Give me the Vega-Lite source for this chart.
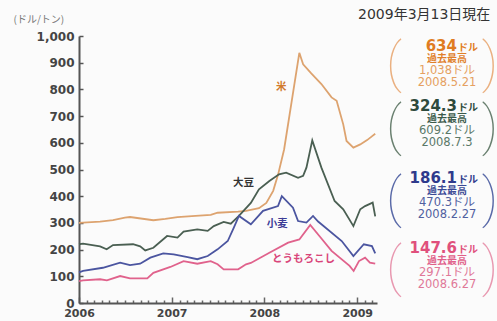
{
  "$schema": "https://vega.github.io/schema/vega-lite/v6.json",
  "background": "#fbfbfb",
  "padding": {"left": 13, "top": 7, "right": 0, "bottom": 0},
  "bounds": "flush",
  "spacing": 3,
  "config": {"view": {"stroke": null}, "font": "DejaVu Sans"},
  "hconcat": [
    {
      "width": 298,
      "height": 267,
      "data": {"values": [
        {"crop": "米", "date": "2006-01-01", "price": 300},
        {"crop": "米", "date": "2006-01-17", "price": 301},
        {"crop": "米", "date": "2006-03-25", "price": 305},
        {"crop": "米", "date": "2006-05-15", "price": 310},
        {"crop": "米", "date": "2006-07-01", "price": 320},
        {"crop": "米", "date": "2006-07-21", "price": 322},
        {"crop": "米", "date": "2006-10-21", "price": 310},
        {"crop": "米", "date": "2006-12-07", "price": 315},
        {"crop": "米", "date": "2007-01-24", "price": 322},
        {"crop": "米", "date": "2007-04-05", "price": 326},
        {"crop": "米", "date": "2007-06-04", "price": 330},
        {"crop": "米", "date": "2007-07-01", "price": 338},
        {"crop": "米", "date": "2007-09-20", "price": 342},
        {"crop": "米", "date": "2007-10-21", "price": 345},
        {"crop": "米", "date": "2007-12-11", "price": 355},
        {"crop": "米", "date": "2008-01-09", "price": 375},
        {"crop": "米", "date": "2008-02-05", "price": 420},
        {"crop": "米", "date": "2008-02-24", "price": 480},
        {"crop": "米", "date": "2008-03-19", "price": 575},
        {"crop": "米", "date": "2008-05-18", "price": 937},
        {"crop": "米", "date": "2008-06-02", "price": 894},
        {"crop": "米", "date": "2008-07-04", "price": 860},
        {"crop": "米", "date": "2008-08-13", "price": 820},
        {"crop": "米", "date": "2008-09-22", "price": 770},
        {"crop": "米", "date": "2008-10-12", "price": 757},
        {"crop": "米", "date": "2008-11-07", "price": 669},
        {"crop": "米", "date": "2008-11-20", "price": 607},
        {"crop": "米", "date": "2008-12-17", "price": 582},
        {"crop": "米", "date": "2009-01-13", "price": 594},
        {"crop": "米", "date": "2009-02-09", "price": 610},
        {"crop": "米", "date": "2009-03-01", "price": 625},
        {"crop": "米", "date": "2009-03-13", "price": 634},

        {"crop": "大豆", "date": "2006-01-01", "price": 220},
        {"crop": "大豆", "date": "2006-01-17", "price": 222},
        {"crop": "大豆", "date": "2006-03-25", "price": 212},
        {"crop": "大豆", "date": "2006-04-20", "price": 201},
        {"crop": "大豆", "date": "2006-05-15", "price": 217},
        {"crop": "大豆", "date": "2006-08-02", "price": 220},
        {"crop": "大豆", "date": "2006-08-30", "price": 212},
        {"crop": "大豆", "date": "2006-09-19", "price": 197},
        {"crop": "大豆", "date": "2006-10-21", "price": 207},
        {"crop": "大豆", "date": "2006-12-14", "price": 251},
        {"crop": "大豆", "date": "2007-01-24", "price": 245},
        {"crop": "大豆", "date": "2007-02-17", "price": 267},
        {"crop": "大豆", "date": "2007-04-12", "price": 276},
        {"crop": "大豆", "date": "2007-05-23", "price": 270},
        {"crop": "大豆", "date": "2007-06-16", "price": 288},
        {"crop": "大豆", "date": "2007-07-25", "price": 304},
        {"crop": "大豆", "date": "2007-08-22", "price": 297},
        {"crop": "大豆", "date": "2007-09-23", "price": 326},
        {"crop": "大豆", "date": "2007-11-09", "price": 375},
        {"crop": "大豆", "date": "2007-12-11", "price": 426},
        {"crop": "大豆", "date": "2008-01-21", "price": 457},
        {"crop": "大豆", "date": "2008-02-28", "price": 482},
        {"crop": "大豆", "date": "2008-03-27", "price": 488},
        {"crop": "大豆", "date": "2008-05-13", "price": 469},
        {"crop": "大豆", "date": "2008-06-02", "price": 476},
        {"crop": "大豆", "date": "2008-06-15", "price": 507},
        {"crop": "大豆", "date": "2008-07-08", "price": 609.2},
        {"crop": "大豆", "date": "2008-08-13", "price": 507},
        {"crop": "大豆", "date": "2008-10-04", "price": 382},
        {"crop": "大豆", "date": "2008-11-07", "price": 351},
        {"crop": "大豆", "date": "2008-12-17", "price": 288},
        {"crop": "大豆", "date": "2009-01-13", "price": 351},
        {"crop": "大豆", "date": "2009-02-01", "price": 363},
        {"crop": "大豆", "date": "2009-03-03", "price": 376},
        {"crop": "大豆", "date": "2009-03-13", "price": 324.3},

        {"crop": "小麦", "date": "2006-01-01", "price": 115},
        {"crop": "小麦", "date": "2006-01-17", "price": 120},
        {"crop": "小麦", "date": "2006-04-05", "price": 132},
        {"crop": "小麦", "date": "2006-06-12", "price": 151},
        {"crop": "小麦", "date": "2006-07-21", "price": 142},
        {"crop": "小麦", "date": "2006-08-30", "price": 147},
        {"crop": "小麦", "date": "2006-10-09", "price": 170},
        {"crop": "小麦", "date": "2006-11-29", "price": 186},
        {"crop": "小麦", "date": "2007-01-09", "price": 182},
        {"crop": "小麦", "date": "2007-03-05", "price": 172},
        {"crop": "小麦", "date": "2007-04-12", "price": 164},
        {"crop": "小麦", "date": "2007-05-23", "price": 176},
        {"crop": "小麦", "date": "2007-07-01", "price": 201},
        {"crop": "小麦", "date": "2007-08-10", "price": 232},
        {"crop": "小麦", "date": "2007-09-03", "price": 282},
        {"crop": "小麦", "date": "2007-09-23", "price": 326},
        {"crop": "小麦", "date": "2007-11-09", "price": 295},
        {"crop": "小麦", "date": "2007-12-27", "price": 345},
        {"crop": "小麦", "date": "2008-02-24", "price": 363},
        {"crop": "小麦", "date": "2008-03-10", "price": 400},
        {"crop": "小麦", "date": "2008-04-23", "price": 357},
        {"crop": "小麦", "date": "2008-05-13", "price": 307},
        {"crop": "小麦", "date": "2008-06-15", "price": 301},
        {"crop": "小麦", "date": "2008-07-11", "price": 326},
        {"crop": "小麦", "date": "2008-07-31", "price": 305},
        {"crop": "小麦", "date": "2008-08-13", "price": 295},
        {"crop": "小麦", "date": "2008-11-01", "price": 232},
        {"crop": "小麦", "date": "2008-12-17", "price": 176},
        {"crop": "小麦", "date": "2009-01-27", "price": 220},
        {"crop": "小麦", "date": "2009-02-28", "price": 213},
        {"crop": "小麦", "date": "2009-03-13", "price": 186.1},

        {"crop": "とうもろこし", "date": "2006-01-01", "price": 82},
        {"crop": "とうもろこし", "date": "2006-01-17", "price": 85},
        {"crop": "とうもろこし", "date": "2006-03-25", "price": 89},
        {"crop": "とうもろこし", "date": "2006-04-21", "price": 85},
        {"crop": "とうもろこし", "date": "2006-06-12", "price": 101},
        {"crop": "とうもろこし", "date": "2006-07-21", "price": 92},
        {"crop": "とうもろこし", "date": "2006-09-27", "price": 92},
        {"crop": "とうもろこし", "date": "2006-10-21", "price": 113},
        {"crop": "とうもろこし", "date": "2006-12-27", "price": 135},
        {"crop": "とうもろこし", "date": "2007-02-17", "price": 157},
        {"crop": "とうもろこし", "date": "2007-04-12", "price": 147},
        {"crop": "とうもろこし", "date": "2007-06-04", "price": 157},
        {"crop": "とうもろこし", "date": "2007-07-01", "price": 145},
        {"crop": "とうもろこし", "date": "2007-07-25", "price": 126},
        {"crop": "とうもろこし", "date": "2007-09-20", "price": 126},
        {"crop": "とうもろこし", "date": "2007-10-21", "price": 145},
        {"crop": "とうもろこし", "date": "2007-11-09", "price": 150},
        {"crop": "とうもろこし", "date": "2008-01-21", "price": 188},
        {"crop": "とうもろこし", "date": "2008-04-04", "price": 226},
        {"crop": "とうもろこし", "date": "2008-05-18", "price": 238},
        {"crop": "とうもろこし", "date": "2008-06-30", "price": 292},
        {"crop": "とうもろこし", "date": "2008-08-05", "price": 251},
        {"crop": "とうもろこし", "date": "2008-09-22", "price": 195},
        {"crop": "とうもろこし", "date": "2008-12-02", "price": 139},
        {"crop": "とうもろこし", "date": "2008-12-18", "price": 120},
        {"crop": "とうもろこし", "date": "2009-01-08", "price": 157},
        {"crop": "とうもろこし", "date": "2009-02-01", "price": 170},
        {"crop": "とうもろこし", "date": "2009-02-20", "price": 151},
        {"crop": "とうもろこし", "date": "2009-03-13", "price": 147.6}
      ]},
      "encoding": {
        "x": {
          "field": "date",
          "type": "temporal",
          "scale": {"domain": [{"year": 2006, "month": 1, "date": 1}, {"year": 2009, "month": 3, "date": 20}]},
          "axis": {
            "title": null,
            "grid": false,
            "tickCount": {"interval": "month", "step": 1},
            "labelExpr": "month(datum.value) === 0 ? timeFormat(datum.value, '%Y') : ''",
            "labelOverlap": false,
            "labelFlush": false,
            "labelFont": "DejaVu Sans",
            "labelFontWeight": "bold",
            "labelFontSize": 11,
            "labelColor": "#444444",
            "labelBaseline": "top",
            "labelPadding": 10,
            "domainColor": "#555555",
            "domainWidth": 2,
            "tickColor": "#666666",
            "tickWidth": 1.5,
            "tickSize": {"condition": {"test": "month(datum.value) === 0", "value": -6}, "value": -3}
          }
        },
        "y": {
          "field": "price",
          "type": "quantitative",
          "scale": {"domain": [0, 1000], "nice": false},
          "axis": {
            "values": [0, 100, 200, 300, 400, 500, 600, 700, 800, 900, 1000],
            "format": ",d",
            "grid": false,
            "labelFont": "DejaVu Sans",
            "labelFontWeight": "bold",
            "labelFontSize": 12,
            "labelColor": "#444444",
            "labelPadding": 9,
            "domainColor": "#555555",
            "domainWidth": 2,
            "tickColor": "#555555",
            "tickWidth": 1.5,
            "tickSize": -4,
            "title": "(ドル/トン)",
            "titleFont": "Noto Sans CJK JP",
            "titleFontSize": 10,
            "titleFontWeight": "normal",
            "titleColor": "#777777",
            "titleAngle": 0,
            "titleAlign": "left",
            "titleBaseline": "middle",
            "titleX": -66,
            "titleY": -17
          }
        }
      },
      "layer": [
        {
          "mark": {"type": "line", "strokeWidth": 1.8},
          "encoding": {
            "color": {
              "field": "crop",
              "type": "nominal",
              "scale": {"domain": ["米", "大豆", "小麦", "とうもろこし"], "range": ["#dda36f", "#4a5f52", "#4b55a0", "#e0628c"]},
              "legend": null
            }
          }
        },
        {
          "data": {"values": [
            {"crop": "米", "date": "2008-03-08", "price": 809},
            {"crop": "大豆", "date": "2007-10-11", "price": 448},
            {"crop": "小麦", "date": "2008-02-21", "price": 296},
            {"crop": "とうもろこし", "date": "2008-06-03", "price": 165}
          ]},
          "mark": {"type": "text", "font": "Noto Sans CJK JP", "fontWeight": "bold", "fontSize": 10.5},
          "encoding": {
            "text": {"field": "crop"},
            "color": {
              "field": "crop",
              "type": "nominal",
              "scale": {"domain": ["米", "大豆", "小麦", "とうもろこし"], "range": ["#d27a2c", "#333333", "#3c3c96", "#d9457a"]},
              "legend": null
            }
          }
        }
      ],
      "resolve": {"scale": {"color": "independent"}}
    },
    {
      "width": 117,
      "height": 267,
      "data": {"values": [
        {"grp": "米", "kind": "stamp", "text": "2009年3月13日現在", "line": -2.6},
        {"grp": "米", "kind": "now", "text": "634", "line": 0},
        {"grp": "米", "kind": "high", "text": "過去最高", "line": 1.1},
        {"grp": "米", "kind": "peak", "text": "1,038ドル", "line": 2.1},
        {"grp": "米", "kind": "peak", "text": "2008.5.21", "line": 3.1},
        {"grp": "米", "kind": "frame", "text": "", "line": 1.6},
        {"grp": "大豆", "kind": "now", "text": "324.3", "line": 5},
        {"grp": "大豆", "kind": "high", "text": "過去最高", "line": 6.1},
        {"grp": "大豆", "kind": "peak", "text": "609.2ドル", "line": 7.1},
        {"grp": "大豆", "kind": "peak", "text": "2008.7.3", "line": 8.1},
        {"grp": "大豆", "kind": "frame", "text": "", "line": 6.8},
        {"grp": "小麦", "kind": "now", "text": "186.1", "line": 11},
        {"grp": "小麦", "kind": "high", "text": "過去最高", "line": 12.1},
        {"grp": "小麦", "kind": "peak", "text": "470.3ドル", "line": 13.1},
        {"grp": "小麦", "kind": "peak", "text": "2008.2.27", "line": 14.1},
        {"grp": "小麦", "kind": "frame", "text": "", "line": 12.8},
        {"grp": "とうもろこし", "kind": "now", "text": "147.6", "line": 16.8},
        {"grp": "とうもろこし", "kind": "high", "text": "過去最高", "line": 17.9},
        {"grp": "とうもろこし", "kind": "peak", "text": "297.1ドル", "line": 18.9},
        {"grp": "とうもろこし", "kind": "peak", "text": "2008.6.27", "line": 19.9},
        {"grp": "とうもろこし", "kind": "frame", "text": "", "line": 18.6}
      ]},
      "encoding": {
        "y": {"field": "line", "type": "quantitative", "scale": {"domain": [-0.833, 21.417], "reverse": true, "nice": false, "zero": false}, "axis": null}
      },
      "layer": [
        {
          "transform": [{"filter": "datum.kind === 'stamp'"}],
          "mark": {"type": "text", "align": "left", "baseline": "middle", "font": "DejaVu Sans, Noto Sans CJK JP", "fontSize": 14, "color": "#333333"},
          "encoding": {"x": {"datum": -22, "type": "quantitative", "scale": {"domain": [0, 117], "nice": false, "zero": false}, "axis": null}, "text": {"field": "text"}}
        },
        {
          "transform": [{"filter": "datum.kind === 'now'"}],
          "mark": {"type": "text", "align": "right", "baseline": "alphabetic", "dy": 5, "font": "DejaVu Sans", "fontWeight": "bold", "fontSize": 15},
          "encoding": {
            "x": {"datum": 77, "type": "quantitative"},
            "text": {"field": "text"},
            "color": {"field": "grp", "type": "nominal", "scale": {"domain": ["米", "大豆", "小麦", "とうもろこし"], "range": ["#e07b22", "#2e4a3c", "#2f3a8c", "#e0507c"]}, "legend": null}
          }
        },
        {
          "transform": [{"filter": "datum.kind === 'now'"}],
          "mark": {"type": "text", "text": "ドル", "align": "left", "baseline": "alphabetic", "dy": 5, "font": "Noto Sans CJK JP", "fontWeight": "bold", "fontSize": 10},
          "encoding": {
            "x": {"datum": 78, "type": "quantitative"},
            "color": {"field": "grp", "type": "nominal", "scale": {"domain": ["米", "大豆", "小麦", "とうもろこし"], "range": ["#e07b22", "#2e4a3c", "#2f3a8c", "#e0507c"]}, "legend": null}
          }
        },
        {
          "transform": [{"filter": "datum.kind === 'high'"}],
          "mark": {"type": "text", "align": "center", "baseline": "middle", "font": "Noto Sans CJK JP", "fontWeight": "bold", "fontSize": 10},
          "encoding": {
            "x": {"datum": 67, "type": "quantitative"},
            "text": {"field": "text"},
            "color": {"field": "grp", "type": "nominal", "scale": {"domain": ["米", "大豆", "小麦", "とうもろこし"], "range": ["#e0802a", "#3c5a4a", "#3c4a96", "#e0608a"]}, "legend": null}
          }
        },
        {
          "transform": [{"filter": "datum.kind === 'peak'"}],
          "mark": {"type": "text", "align": "center", "baseline": "middle", "font": "DejaVu Sans, Noto Sans CJK JP", "fontSize": 11.5},
          "encoding": {
            "x": {"datum": 67, "type": "quantitative"},
            "text": {"field": "text"},
            "color": {"field": "grp", "type": "nominal", "scale": {"domain": ["米", "大豆", "小麦", "とうもろこし"], "range": ["#e5a060", "#5a7868", "#5060a0", "#e07898"]}, "legend": null}
          }
        },
        {
          "transform": [{"filter": "datum.kind === 'frame'"}],
          "mark": {"type": "text", "text": "(", "align": "center", "baseline": "middle", "font": "Roboto", "fontWeight": 100, "fontSize": 54},
          "encoding": {
            "x": {"datum": 14, "type": "quantitative"},
            "color": {"field": "grp", "type": "nominal", "scale": {"domain": ["米", "大豆", "小麦", "とうもろこし"], "range": ["#eab080", "#6a8070", "#5a6aa8", "#e898b0"]}, "legend": null}
          }
        },
        {
          "transform": [{"filter": "datum.kind === 'frame'"}],
          "mark": {"type": "text", "text": ")", "align": "center", "baseline": "middle", "font": "Roboto", "fontWeight": 100, "fontSize": 54},
          "encoding": {
            "x": {"datum": 110, "type": "quantitative"},
            "color": {"field": "grp", "type": "nominal", "scale": {"domain": ["米", "大豆", "小麦", "とうもろこし"], "range": ["#eab080", "#6a8070", "#5a6aa8", "#e898b0"]}, "legend": null}
          }
        }
      ],
      "resolve": {"scale": {"color": "independent"}}
    }
  ]
}
